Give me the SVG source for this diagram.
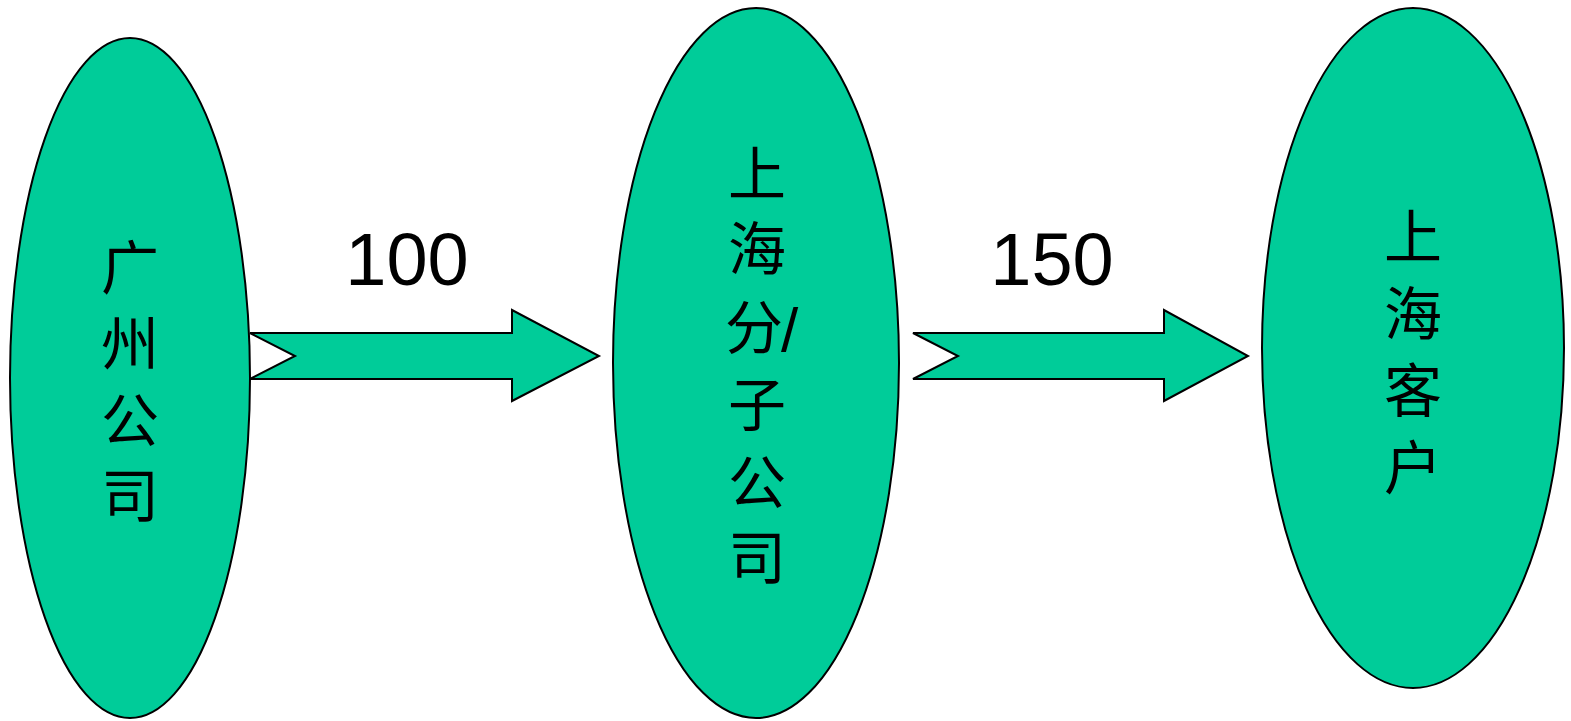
<svg xmlns="http://www.w3.org/2000/svg" width="1571" height="721" viewBox="0 0 1571 721">
<style>
.node{fill:#00CC99;stroke:#000;stroke-width:2}
.arrow{fill:#00CC99;stroke:#000;stroke-width:2;stroke-linejoin:miter}
.cjk{font-family:"Noto Sans CJK SC","Liberation Serif",serif;font-size:58px;fill:#000;text-anchor:middle}
.num{font-family:"Liberation Sans",Arial,sans-serif;font-size:74px;fill:#000;text-anchor:middle}
.sl{font-family:"Liberation Sans",Arial,sans-serif;font-size:62px;fill:#000}
</style>
<rect width="1571" height="721" fill="#fff"/>
<g id="node-guangzhou">
<ellipse class="node" cx="130" cy="378" rx="120" ry="340"/>
<text class="cjk" x="130" y="289">广</text>
<text class="cjk" x="130" y="365">州</text>
<text class="cjk" x="130" y="442">公</text>
<text class="cjk" x="130" y="517">司</text>
</g>
<g id="node-shanghai-sub">
<ellipse class="node" cx="756" cy="363" rx="143" ry="355"/>
<text class="cjk" x="757" y="195">上</text>
<text class="cjk" x="757" y="270">海</text>
<text class="cjk" x="754" y="349">分</text>
<text class="sl" x="781" y="351">/</text>
<text class="cjk" x="757" y="426">子</text>
<text class="cjk" x="757" y="504">公</text>
<text class="cjk" x="757" y="579">司</text>
</g>
<g id="node-shanghai-client">
<ellipse class="node" cx="1413" cy="348" rx="151" ry="340"/>
<text class="cjk" x="1413" y="258">上</text>
<text class="cjk" x="1413" y="335">海</text>
<text class="cjk" x="1413" y="412">客</text>
<text class="cjk" x="1413" y="489">户</text>
</g>
<g id="connectors">
<polygon class="arrow" points="250,333 512,333 512,310 599,356 512,401 512,379 250,379 295,356"/>
<polygon class="arrow" points="913,333 1164,333 1164,310 1248,356 1164,401 1164,379 913,379 958,356"/>
<text class="num" x="407" y="285">100</text>
<text class="num" x="1052" y="285">150</text>
</g>
</svg>
